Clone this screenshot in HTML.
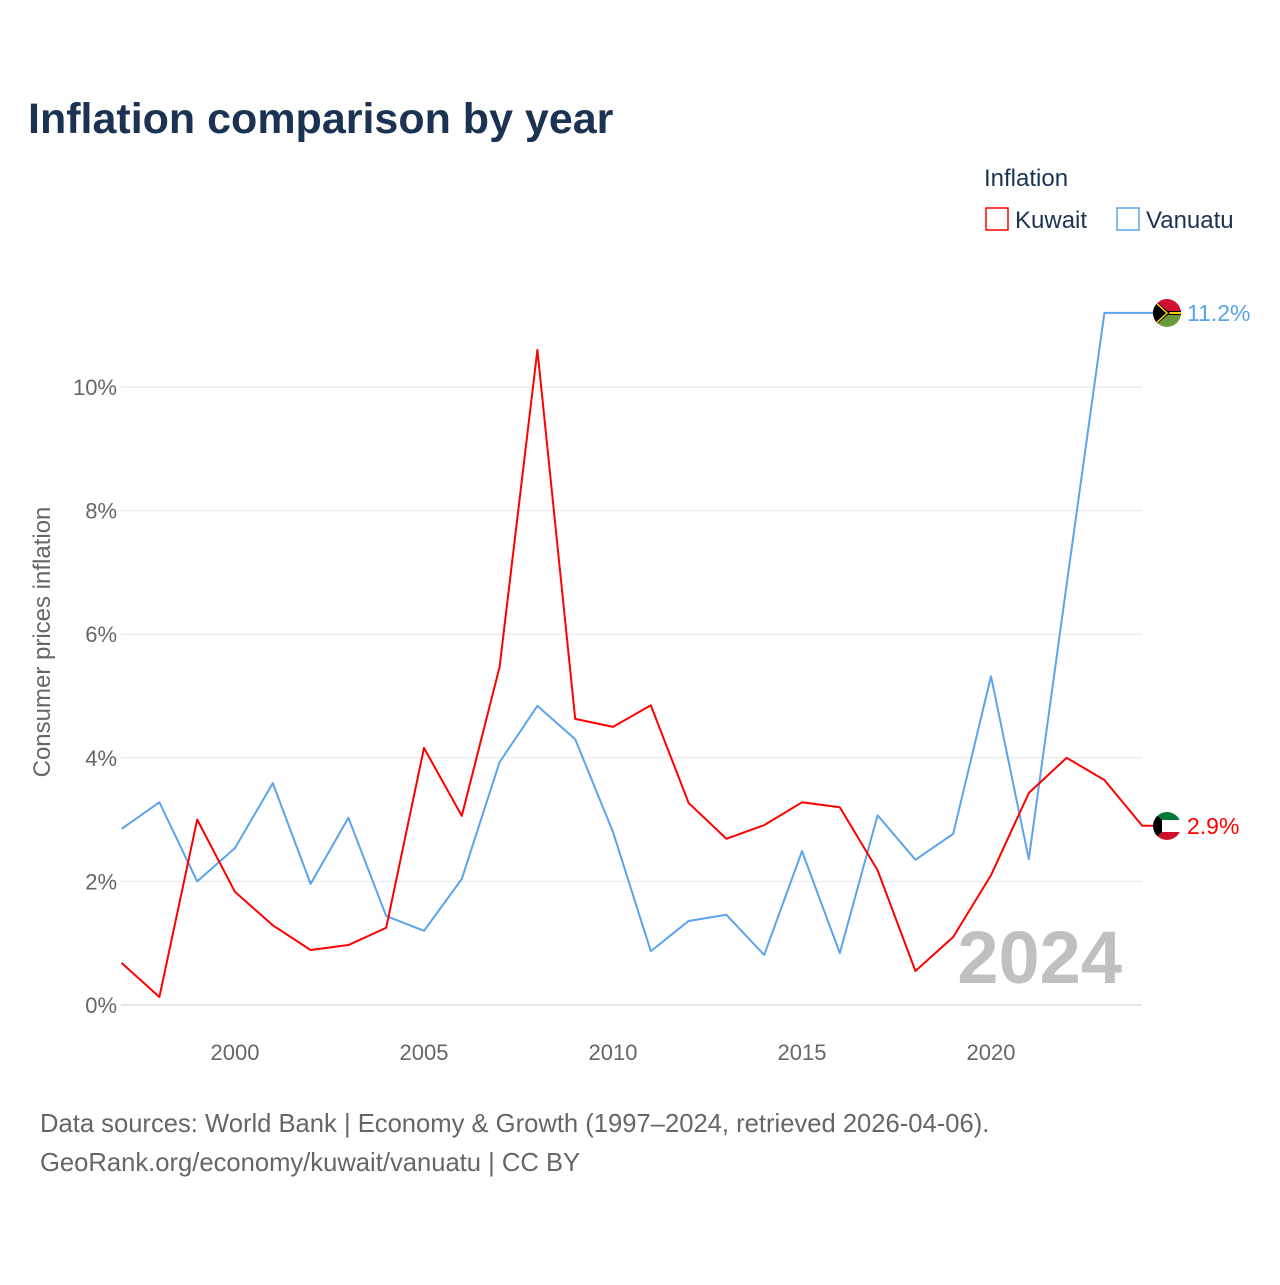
<!DOCTYPE html>
<html><head><meta charset="utf-8"><style>
body{margin:0;background:#fff;font-family:"Liberation Sans",sans-serif;}
#wrap{position:relative;width:1280px;height:1280px;}
</style></head><body>
<div id="wrap">
<svg id="chart" width="1280" height="1280" xmlns="http://www.w3.org/2000/svg">
<defs>
<clipPath id="cv"><circle cx="1167" cy="313" r="14"/></clipPath>
<clipPath id="ck"><circle cx="1167" cy="826" r="14"/></clipPath>
</defs>
<text x="28" y="133" font-size="43" font-weight="bold" fill="#1b3252">Inflation comparison by year</text>
<text x="984" y="186" font-size="24" fill="#1b3252">Inflation</text>
<g><rect x="986" y="208" width="22" height="22" fill="none" stroke="#ff0000" stroke-width="1.5"/><text x="1015" y="228" font-size="24" fill="#1b3252">Kuwait</text></g>
<g><rect x="1117" y="208" width="22" height="22" fill="none" stroke="#5ba3ea" stroke-width="1.5"/><text x="1146" y="228" font-size="24" fill="#1b3252">Vanuatu</text></g>
<g id="grid"></g><g id="lines"></g>
<text x="1122" y="983" font-size="74" font-weight="bold" fill="#c0c0c0" text-anchor="end">2024</text>
<text transform="translate(50,642) rotate(-90)" font-size="24" fill="#666" text-anchor="middle">Consumer prices inflation</text>
<text x="40" y="1132" font-size="25.6" fill="#666">Data sources: World Bank | Economy &amp; Growth (1997–2024, retrieved 2026-04-06).</text>
<text x="40" y="1171" font-size="25.6" fill="#666">GeoRank.org/economy/kuwait/vanuatu | CC BY</text>
<g clip-path="url(#cv)">
<rect x="1150" y="296" width="34" height="17" fill="#d21034"/><rect x="1150" y="313" width="34" height="17" fill="#6a9a3a"/>
<rect x="1150" y="311" width="34" height="4" fill="#000"/><rect x="1150" y="312" width="34" height="2" fill="#fdce12"/>
<polygon points="1150,296 1170,313 1150,330" fill="#000"/><polyline points="1152,299 1167,313 1152,327" fill="none" stroke="#fdce12" stroke-width="1.5"/>
</g>
<g clip-path="url(#ck)">
<rect x="1150" y="809" width="34" height="11" fill="#007a3d"/><rect x="1150" y="820" width="34" height="12" fill="#fff"/><rect x="1150" y="832" width="34" height="11" fill="#ce1126"/>
<polygon points="1150,809 1162,820 1162,832 1150,843" fill="#000"/>
</g>
</svg>
</div>
<script>
const years=[1997,1998,1999,2000,2001,2002,2003,2004,2005,2006,2007,2008,2009,2010,2011,2012,2013,2014,2015,2016,2017,2018,2019,2020,2021,2022,2023,2024];
const kuwait=[0.68,0.13,3.0,1.83,1.29,0.89,0.97,1.25,4.16,3.06,5.47,10.6,4.63,4.5,4.85,3.27,2.69,2.91,3.28,3.2,2.18,0.55,1.1,2.1,3.43,4.0,3.64,2.9];
const vanuatu=[2.85,3.28,2.0,2.54,3.59,1.96,3.03,1.44,1.2,2.04,3.93,4.84,4.3,2.8,0.87,1.36,1.46,0.81,2.49,0.84,3.07,2.35,2.77,5.32,2.36,6.8,11.2,11.2];
const yTicks=[0,2,4,6,8,10];
const xTicks=[2000,2005,2010,2015,2020];
const NS="http://www.w3.org/2000/svg";
const X=y=>121.6+(y-1997)*37.8;
const Y=v=>1005-v*61.8;
const grid=document.getElementById('grid'),lines=document.getElementById('lines');
function mk(tag,attrs,parent){const e=document.createElementNS(NS,tag);for(const k in attrs)e.setAttribute(k,attrs[k]);parent.appendChild(e);return e;}
yTicks.forEach(t=>{
 const l=mk('line',{x1:121,x2:1142,y1:Y(t),y2:Y(t),stroke:t===0?'#ccc':'#e6e6e6','stroke-width':1},grid);
 
 
 const tx=mk('text',{x:117,y:Y(t)+8,'font-size':22,fill:'#666','text-anchor':'end'},grid);
 tx.textContent=t+'%';
 
 
});
xTicks.forEach(t=>{
 const tx=mk('text',{x:X(t),y:1060,'font-size':22,fill:'#666','text-anchor':'middle'},grid);
 tx.textContent=t;
 
 
});
function series(vals,color,name,label){
 const last=vals[vals.length-1];
 const pts=vals.map((v,i)=>X(years[i])+','+Y(v)).join(' ')+' '+(X(years[years.length-1])+12)+','+Y(last);
 const p=mk('polyline',{points:pts,fill:'none',stroke:color,'stroke-width':2,'stroke-linejoin':'round'},lines);
 
 
 const t=mk('text',{x:1187,y:Y(last)+8,'font-size':23,fill:color},lines);
 t.textContent=label;
 
 
}
series(vanuatu,'#5ba3ea','vanuatu',vanuatu[vanuatu.length-1].toFixed(1)+'%');
series(kuwait,'#ff0000','kuwait',kuwait[kuwait.length-1].toFixed(1)+'%');
</script>
</body></html>
